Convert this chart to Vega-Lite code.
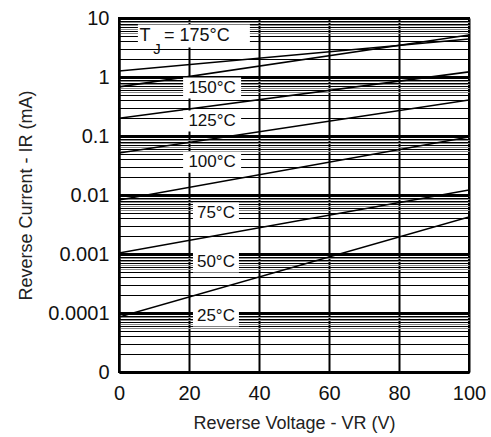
{
  "$schema": "https://vega.github.io/schema/vega-lite/v6.json",
  "autosize": "none",
  "width": 350,
  "height": 354,
  "padding": {"left": 119, "top": 18, "right": 22, "bottom": 65},
  "background": "white",
  "config": {
    "view": {"stroke": "black", "strokeWidth": 2},
    "font": "Liberation Sans",
    "axis": {"labelFont": "Liberation Sans", "titleFont": "Liberation Sans", "labelColor": "#111", "titleColor": "#222", "titleFontWeight": "normal"}
  },
  "datasets": {
    "curves": [
      {"temp": "175", "v": 0, "ir": 1.26},
      {"temp": "175", "v": 100, "ir": 4.4},
      {"temp": "150", "v": 0, "ir": 0.68},
      {"temp": "150", "v": 100, "ir": 5.15},
      {"temp": "125", "v": 0, "ir": 0.2},
      {"temp": "125", "v": 100, "ir": 1.22},
      {"temp": "100", "v": 0, "ir": 0.0515},
      {"temp": "100", "v": 100, "ir": 0.407},
      {"temp": "75", "v": 0, "ir": 0.00822},
      {"temp": "75", "v": 100, "ir": 0.0962},
      {"temp": "50", "v": 0, "ir": 0.00104},
      {"temp": "50", "v": 100, "ir": 0.01216},
      {"temp": "25", "v": 0, "ir": 0.0000855},
      {"temp": "25", "v": 100, "ir": 0.00424}
    ],
    "labels": [
      {"text": "150°C", "kind": "wide", "v": 26.6, "ir": 0.65},
      {"text": "125°C", "kind": "wide", "v": 26.6, "ir": 0.18},
      {"text": "100°C", "kind": "wide", "v": 26.6, "ir": 0.036},
      {"text": "75°C", "kind": "narrow", "v": 27.7, "ir": 0.00495},
      {"text": "50°C", "kind": "narrow", "v": 27.7, "ir": 0.00073},
      {"text": "25°C", "kind": "narrow", "v": 27.7, "ir": 0.0000891}
    ],
    "tj": [
      {"v": 21.4, "ir": 4.95}
    ]
  },
  "layer": [
    {
      "data": {"name": "curves"},
      "mark": {"type": "line", "color": "black", "strokeWidth": 1.6, "clip": true},
      "encoding": {
        "x": {
          "field": "v", "type": "quantitative",
          "scale": {"domain": [0, 100], "nice": false},
          "axis": {
            "values": [0, 20, 40, 60, 80, 100],
            "grid": true, "gridColor": "black", "gridWidth": 2, "gridOpacity": 1,
            "ticks": false, "domainColor": "black", "domainWidth": 2,
            "labelFontSize": 20, "labelPadding": 11, "labelFlush": false,
            "title": "Reverse Voltage - VR (V)", "titleFontSize": 18, "titlePadding": 11
          }
        },
        "y": {
          "field": "ir", "type": "quantitative",
          "scale": {"type": "log", "domain": [0.00001, 10], "nice": false},
          "axis": {
            "values": [0.00001,0.00002,0.00003,0.00004,0.00005,0.000055,0.00006,0.000065,0.00007,0.000075,0.00008,0.000085,0.00009,0.000095,
                       0.0001,0.0002,0.0003,0.0004,0.0005,0.00055,0.0006,0.00065,0.0007,0.00075,0.0008,0.00085,0.0009,0.00095,
                       0.001,0.002,0.003,0.004,0.005,0.0055,0.006,0.0065,0.007,0.0075,0.008,0.0085,0.009,0.0095,
                       0.01,0.02,0.03,0.04,0.05,0.055,0.06,0.065,0.07,0.075,0.08,0.085,0.09,0.095,
                       0.1,0.2,0.3,0.4,0.5,0.55,0.6,0.65,0.7,0.75,0.8,0.85,0.9,0.95,
                       1,2,3,4,5,5.5,6,6.5,7,7.5,8,8.5,9,9.5,10],
            "labelExpr": "indexof([0.00001,0.0001,0.001,0.01,0.1,1,10], datum.value) >= 0 ? (datum.value == 0.00001 ? '0' : toString(datum.value)) : ''",
            "labelOverlap": false,
            "grid": true, "gridOpacity": 1,
            "gridColor": {"condition": {"test": "abs(datum.value / pow(10, floor(log(datum.value)/LN10 + 1e-9)) - round(datum.value / pow(10, floor(log(datum.value)/LN10 + 1e-9)))) > 0.25", "value": "#8a8a8a"}, "value": "black"},
            "gridWidth": {"condition": {"test": "indexof([0.00001,0.0001,0.001,0.01,0.1,1,10], datum.value) >= 0", "value": 3}, "value": 1},
            "ticks": false, "domainColor": "black", "domainWidth": 2,
            "labelFontSize": 20, "labelPadding": 10, "labelFlush": false,
            "title": "Reverse Current  - IR (mA)", "titleFontSize": 18, "titlePadding": 12
          }
        },
        "detail": {"field": "temp"}
      }
    },
    {
      "data": {"name": "labels"},
      "mark": {"type": "point", "filled": true, "color": "white", "opacity": 1, "strokeWidth": 0, "size": 900},
      "encoding": {
        "x": {"field": "v", "type": "quantitative"},
        "y": {"field": "ir", "type": "quantitative"},
        "shape": {"field": "kind", "type": "nominal", "legend": null,
          "scale": {"domain": ["wide", "narrow"], "range": ["M-1.933,-0.7H1.933V0.7H-1.933Z", "M-1.533,-0.7H1.533V0.7H-1.533Z"]}}
      }
    },
    {
      "data": {"name": "labels"},
      "mark": {"type": "text", "fontSize": 17, "color": "#111", "align": "center", "baseline": "middle", "font": "Liberation Sans"},
      "encoding": {
        "x": {"field": "v", "type": "quantitative"},
        "y": {"field": "ir", "type": "quantitative"},
        "text": {"field": "text"}
      }
    },
    {
      "data": {"name": "tj"},
      "mark": {"type": "point", "filled": true, "color": "white", "opacity": 1, "strokeWidth": 0, "size": 900, "shape": "M-3.733,-0.767H3.733V0.767H-3.733Z"},
      "encoding": {
        "x": {"field": "v", "type": "quantitative"},
        "y": {"field": "ir", "type": "quantitative"}
      }
    },
    {
      "data": {"name": "tj"},
      "mark": {"type": "text", "text": "T", "dx": -49, "fontSize": 18, "color": "#111", "align": "center", "baseline": "middle", "font": "Liberation Sans"},
      "encoding": {
        "x": {"field": "v", "type": "quantitative"},
        "y": {"field": "ir", "type": "quantitative"}
      }
    },
    {
      "data": {"name": "tj"},
      "mark": {"type": "text", "text": "J", "dx": -37, "dy": 13, "fontSize": 15, "color": "#111", "align": "center", "baseline": "middle", "font": "Liberation Sans"},
      "encoding": {
        "x": {"field": "v", "type": "quantitative"},
        "y": {"field": "ir", "type": "quantitative"}
      }
    },
    {
      "data": {"name": "tj"},
      "mark": {"type": "text", "text": "= 175°C", "dx": 3, "fontSize": 18, "color": "#111", "align": "center", "baseline": "middle", "font": "Liberation Sans"},
      "encoding": {
        "x": {"field": "v", "type": "quantitative"},
        "y": {"field": "ir", "type": "quantitative"}
      }
    }
  ]
}
